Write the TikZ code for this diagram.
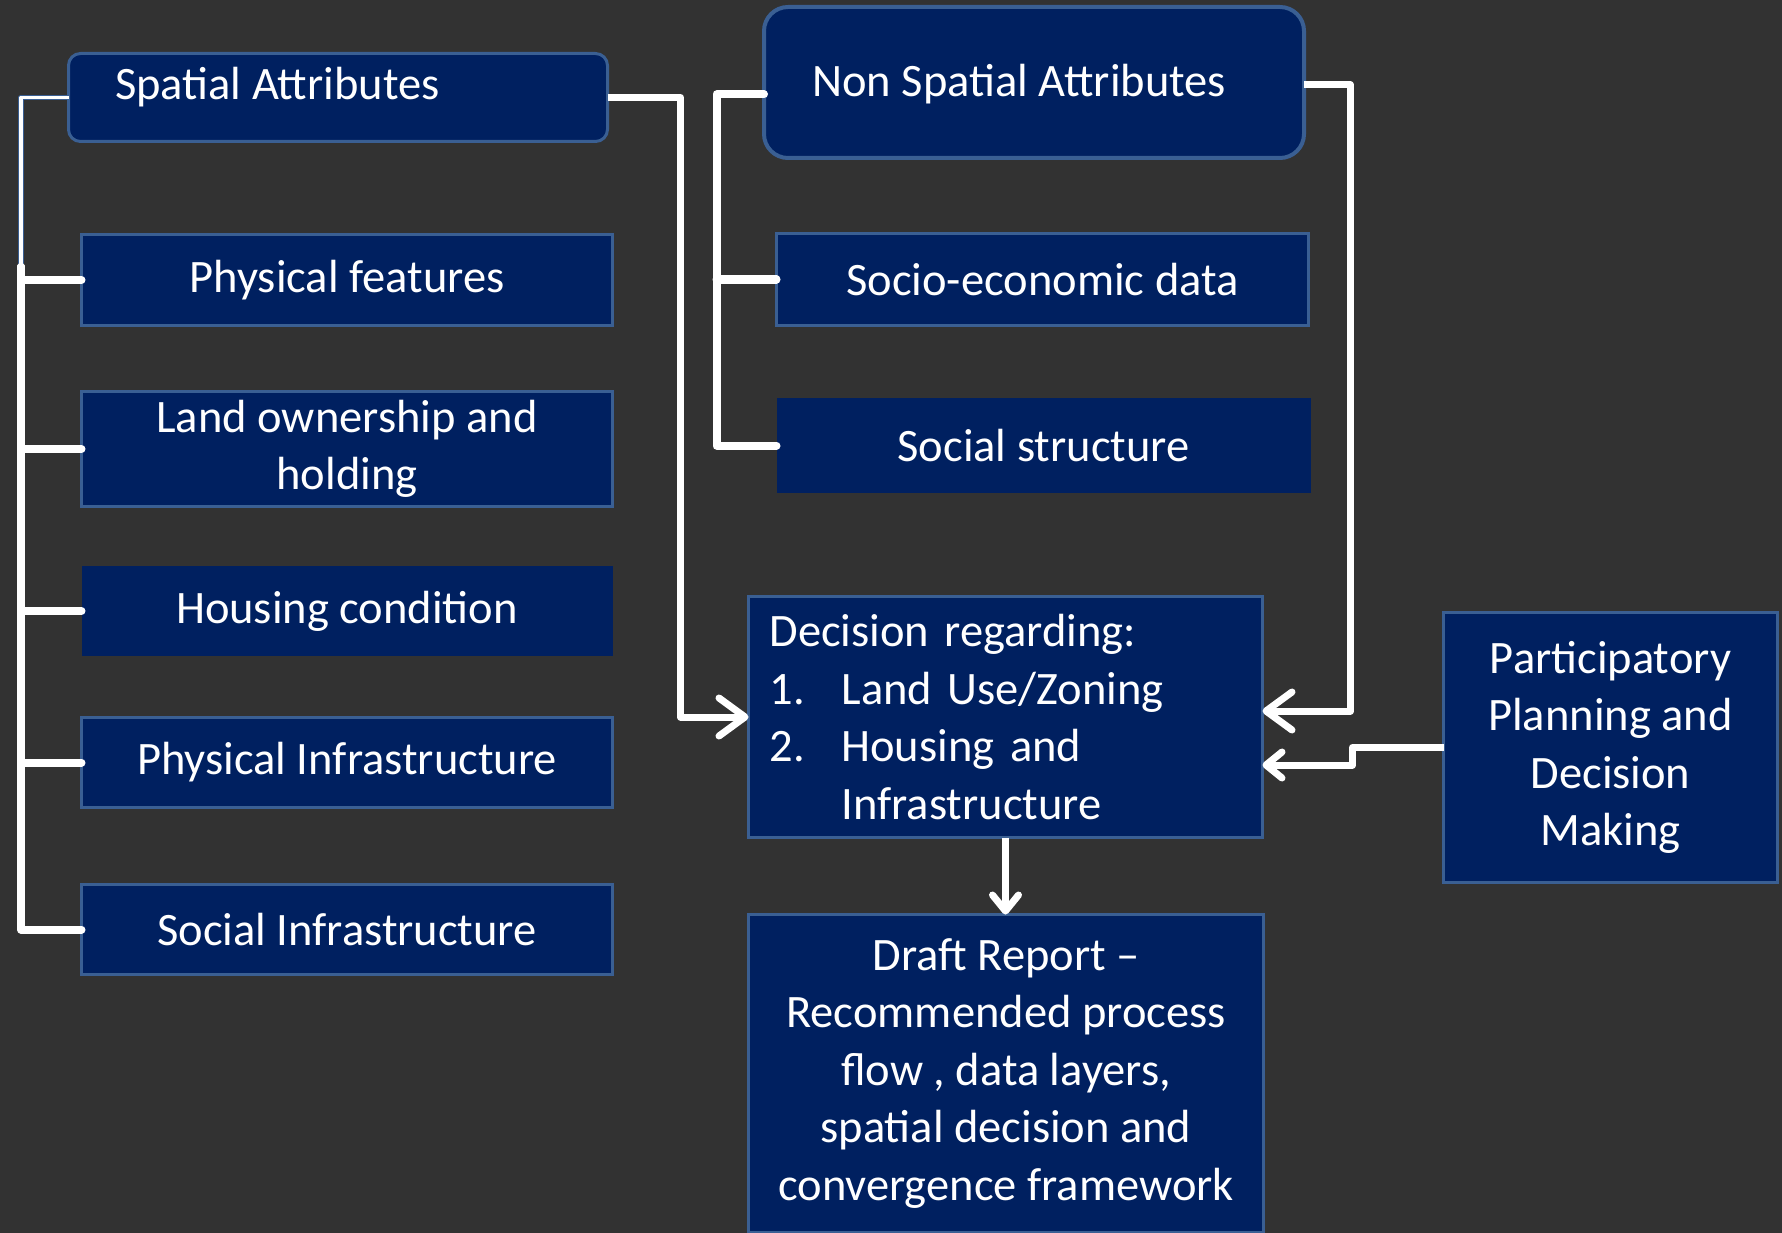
\documentclass[tikz,border=0pt]{standalone}
\usepackage{fontspec}
\setmainfont{Carlito}
\usetikzlibrary{positioning,arrows.meta}

\definecolor{navy}{HTML}{002060}
\definecolor{edge}{HTML}{3A5F93}
\definecolor{wall}{HTML}{323232}

\tikzset{
  box/.style={fill=navy,draw=edge,line width=3pt,text=white,align=center,
    inner sep=0pt,outer sep=0pt,font=\fontsize{46.5}{57.5}\selectfont},
  head/.style={box,rounded corners=12pt},
  headtext/.style={text=white,inner sep=0pt,anchor=base west,font=\fontsize{46.5}{57.5}\selectfont},
  leaf/.style={box,anchor=north west,minimum width=531pt},
  stem/.style={draw=edge,double=white,double distance=3.5pt,line width=1.2pt,line join=round},
  branch/.style={white,line width=8pt,line cap=round,line join=round},
  flow/.style={white,line width=7pt,line join=round,-{Straight Barb[round,length=26pt,width=38pt]}},
  smallflow/.style={white,line width=7pt,line join=round,-{Straight Barb[round,length=16pt,width=26pt]}},
}

\begin{document}
\begin{tikzpicture}[x=1pt,y=-1pt]
	\fill[wall] (0,0) rectangle (1782,1233);
	\useasboundingbox (0,0) rectangle (1782,1233);

	% headers
	\node[head,minimum width=539pt,minimum height=88pt](spatial) at (338,97.5){};
	\node[headtext](spatialtext) at (115,100){Spatial Attributes};
	\node[head,rounded corners=24pt,line width=4pt,minimum width=540pt,minimum height=151pt](nonspatial) at (1034,82.5){};
	\node[headtext](nonspatialtext) at (812,97){Non Spatial Attributes};

	% spatial column
	\node[leaf,minimum height=91pt](physfeat) at (81.5,234.5){Physical features};
	\node[leaf,below=66pt of physfeat.south west,anchor=north west,minimum height=115pt](landown){Land ownership and\\holding};
	\node[leaf,draw=none,below=59.5pt of landown.south west,anchor=north west,minimum height=90pt](housing){Housing condition};
	\node[leaf,below=61.5pt of housing.south west,anchor=north west,minimum height=90pt](physinfra){Physical Infrastructure};
	\node[leaf,below=77pt of physinfra.south west,anchor=north west,minimum height=90pt](socinfra){Social Infrastructure};

	% non spatial column
	\node[leaf,minimum width=532pt,minimum height=92pt](socio) at (776.5,233.5){Socio-economic data};
	\node[leaf,draw=none,minimum width=534pt,below=72.5pt of socio.south west,anchor=north west,minimum height=95pt](socstruct){Social structure};

	% decision and outputs
	\node[box,anchor=north west,minimum width=514pt,minimum height=241pt,text width=472pt,align=left](decision) at (748.5,596.5){Decision regarding:\\
		\makebox[72pt][l]{1.}Land Use/Zoning\\
		\makebox[72pt][l]{2.}Housing and\\
		\hspace*{72pt}Infrastructure};
	\node[box,below=77pt of decision.south west,anchor=north west,minimum width=515pt,minimum height=318pt](draft){Draft Report --\\Recommended process\\flow , data layers,\\spatial decision and\\convergence framework};
	\node[box,anchor=north west,minimum width=334pt,minimum height=270pt](particip) at (1443.5,612.5){Participatory\\Planning and\\Decision\\Making};

	% left bus
	\coordinate (lbus) at (21,267);
	\draw[stem] (spatial.west) -| (lbus);
	\foreach \n in {physfeat,landown,housing,physinfra,socinfra}
		\draw[branch] (lbus) |- (\n.west);

	% middle bus
	\draw[branch] ([yshift=-12pt]nonspatial.west) -| ([xshift=-60pt]socstruct.west) -- (socstruct.west);
	\draw[branch] ([xshift=-60pt]socio.west) -- (socio.west);

	% into the decision box
	\draw[flow] (spatial.east) -| ([xshift=-68pt]decision.west) -- (decision.west);
	\draw[flow] ([yshift=-2.5pt]nonspatial.east) -| ([xshift=88pt,yshift=6pt]decision.east) -- ([yshift=6pt]decision.east);
	\draw[smallflow] (particip.west) -| ([xshift=90pt,yshift=-48pt]decision.east) -- ([yshift=-48pt]decision.east);
	\draw[smallflow] (decision.south) -- (decision.south |- draft.north);
\end{tikzpicture}
\end{document}
